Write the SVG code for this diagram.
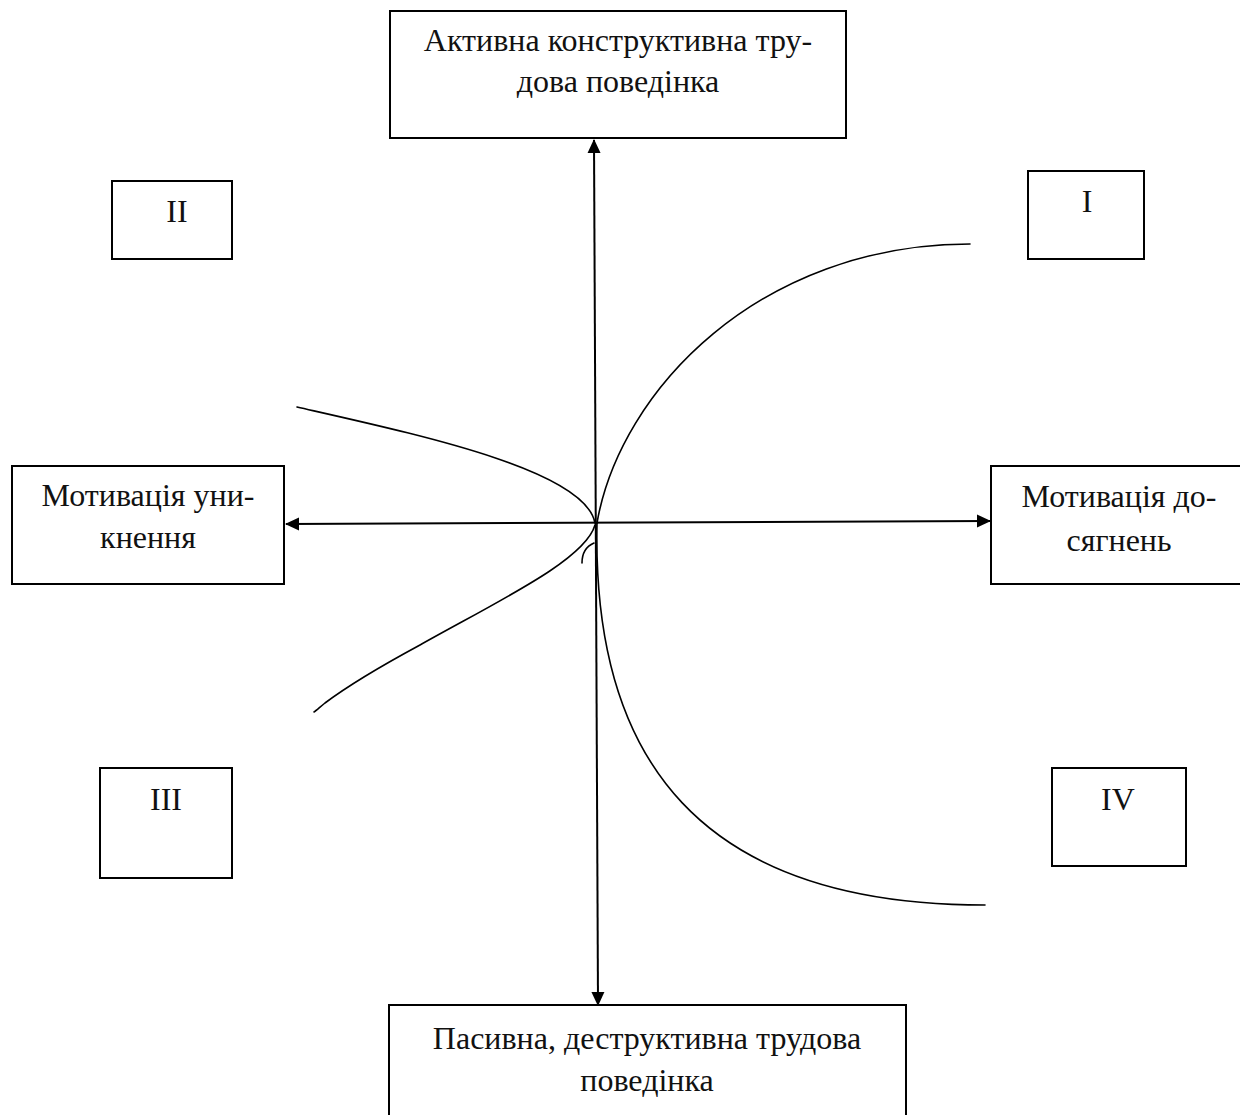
<svg xmlns="http://www.w3.org/2000/svg" width="1240" height="1115" viewBox="0 0 1240 1115">
  <style>
    .box { fill: #ffffff; stroke: #000000; stroke-width: 2; }
    .lbl { font-family: "Liberation Serif", "Times New Roman", serif; font-size: 32px; fill: #111111; text-anchor: middle; }
    .axis { stroke: #000000; stroke-width: 2; fill: none; }
    .curve { stroke: #000000; stroke-width: 1.6; fill: none; stroke-linecap: round; }
  </style>
  <defs>
    <marker id="arrow" viewBox="0 0 14 14" refX="13" refY="7" markerWidth="14" markerHeight="14" markerUnits="userSpaceOnUse" orient="auto-start-reverse">
      <path d="M0,0.5 L14,7 L0,13.5 z" fill="#000000"/>
    </marker>
  </defs>
  <rect width="1240" height="1115" fill="#ffffff"/>

  <g id="connectors">
    <line class="axis" x1="594" y1="140" x2="598" y2="1005" marker-start="url(#arrow)" marker-end="url(#arrow)"/>
    <line class="axis" x1="286" y1="524" x2="990" y2="521" marker-start="url(#arrow)" marker-end="url(#arrow)"/>
    <path class="curve" d="M970,244 C760,244 620,390 597,523"/>
    <path class="curve" d="M597,523 C592,760 700,905 985,905"/>
    <path class="curve" d="M297,407 C420,435 585,470 595,523"/>
    <path class="curve" d="M595,525 C585,560 500,600 420,645 C370,672 345,688 325,703 C320,707 316,711 314,712"/>
    <path class="curve" d="M582,563 C582,553 587,546 594,543"/>
  </g>

  <g id="node-top">
    <rect class="box" x="390" y="11" width="456" height="127"/>
    <text class="lbl" x="618" y="51">Активна конструктивна тру-</text>
    <text class="lbl" x="618" y="92">дова поведінка</text>
  </g>

  <g id="node-bottom">
    <rect class="box" x="389" y="1005" width="517" height="130"/>
    <text class="lbl" x="647" y="1049">Пасивна, деструктивна трудова</text>
    <text class="lbl" x="647" y="1091">поведінка</text>
  </g>

  <g id="node-left">
    <rect class="box" x="12" y="466" width="272" height="118"/>
    <text class="lbl" x="148" y="506">Мотивація уни-</text>
    <text class="lbl" x="148" y="548">кнення</text>
  </g>

  <g id="node-right">
    <rect class="box" x="991" y="466" width="260" height="118"/>
    <text class="lbl" x="1119" y="507">Мотивація до-</text>
    <text class="lbl" x="1119" y="551">сягнень</text>
  </g>

  <g id="node-I">
    <rect class="box" x="1028" y="171" width="116" height="88"/>
    <text class="lbl" x="1087" y="212">I</text>
  </g>

  <g id="node-II">
    <rect class="box" x="112" y="181" width="120" height="78"/>
    <text class="lbl" x="177" y="222">II</text>
  </g>

  <g id="node-III">
    <rect class="box" x="100" y="768" width="132" height="110"/>
    <text class="lbl" x="166" y="810">III</text>
  </g>

  <g id="node-IV">
    <rect class="box" x="1052" y="768" width="134" height="98"/>
    <text class="lbl" x="1118" y="810">IV</text>
  </g>
</svg>
